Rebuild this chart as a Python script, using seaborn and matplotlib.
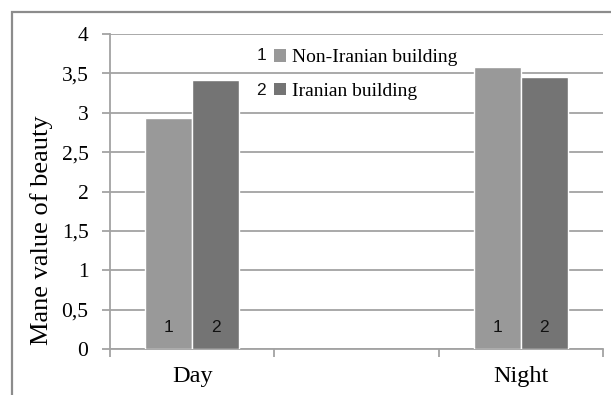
import pandas as pd
import matplotlib.pyplot as plt
import seaborn as sns
from matplotlib.patches import Patch, Rectangle

sns.set_theme(style="white")
plt.rcParams['font.family'] = ['Liberation Serif', 'DejaVu Serif']
plt.rcParams['text.color'] = 'black'
plt.rcParams['xtick.color'] = 'black'
plt.rcParams['ytick.color'] = 'black'
plt.rcParams['axes.labelcolor'] = 'black'

# data
periods = ['Day', 'Day', 'Night', 'Night']
buildings = ['Non-Iranian building', 'Iranian building',
             'Non-Iranian building', 'Iranian building']
values = [2.93, 3.42, 3.58, 3.45]
category_order = ['Day', ' ', 'Night']
hue_order = ['Non-Iranian building', 'Iranian building']
bar_numbers = ['1', '2']
yticks = [0, 0.5, 1, 1.5, 2, 2.5, 3, 3.5, 4]
ytick_labels = ['0', '0,5', '1', '1,5', '2', '2,5', '3', '3,5', '4']
colors = ['#999999', '#747474']
grid_color = '#a3a3a3'

df = pd.DataFrame({'period': periods, 'building': buildings, 'value': values})

fig = plt.figure(figsize=(6.11, 3.95), dpi=100)
ax = fig.add_axes([110 / 611, 1 - 349 / 395, 493 / 611, 315 / 395])

sns.barplot(data=df, x='period', y='value', hue='building', order=category_order,
            hue_order=hue_order, palette=colors, width=0.574, saturation=1,
            ax=ax, legend=False, zorder=3)

ax.set_xlim(-0.5, 2.5)
ax.set_ylim(0, 4)
ax.set_yticks(yticks)
ax.set_yticklabels(ytick_labels, fontsize=15.5)
ax.yaxis.grid(True, color=grid_color, linewidth=1.3, zorder=0)
ax.tick_params(axis='y', length=5.5, width=1.3, color=grid_color, pad=10, left=True)

# category labels at centres, tick marks at the category boundaries
ax.set_xticks([0, 2])
ax.set_xticklabels(['Day', 'Night'], fontsize=17.5)
ax.set_xticks([-0.5, 0.5, 1.5, 2.5], minor=True)
ax.tick_params(axis='x', which='major', length=0, pad=12)
ax.tick_params(axis='x', which='minor', length=5.5, width=1.3, color=grid_color,
               bottom=True, direction='out')
ax.set_xlabel('')

for side in ['top', 'right']:
    ax.spines[side].set_visible(False)
for side in ['left', 'bottom']:
    ax.spines[side].set_color(grid_color)
    ax.spines[side].set_linewidth(1.3)

ax.set_ylabel('Mane value of beauty', fontsize=19)
ax.yaxis.label.set_va('center')
ax.yaxis.set_label_coords((42 - 110) / 493, 0.378)

# series numbers inside the bars
for num, container in zip(bar_numbers, ax.containers):
    for bar in container:
        if bar.get_height() > 0:
            ax.text(bar.get_x() + bar.get_width() / 2, 0.27, num, ha='center',
                    va='center', fontsize=12.5, family=['Liberation Sans'], color='#111111',
                    zorder=4)

# legend with the numbers in front
handles = [Patch(facecolor=c, edgecolor='none') for c in colors]
fig.legend(handles, hue_order, loc='upper left', bbox_to_anchor=(274 / 611, 1 - 49 / 395),
           frameon=False, fontsize=14, borderpad=0, borderaxespad=0,
           handlelength=0.62, handleheight=0.62, handletextpad=0.3, labelspacing=0.85)
for num, y in zip(bar_numbers, [60, 95]):
    fig.text(261 / 611, 1 - y / 395, num, ha='center', va='baseline', fontsize=12.5,
             family=['Liberation Sans'], color='#111111')

# outer frame of the picture
fig.patches.append(Rectangle((12 / 611, -0.1), 1.2, 1.1 - 12 / 395,
                             transform=fig.transFigure, fill=False,
                             edgecolor='#8c8c8c', linewidth=1.6))

fig.savefig('out.png', dpi=100)
